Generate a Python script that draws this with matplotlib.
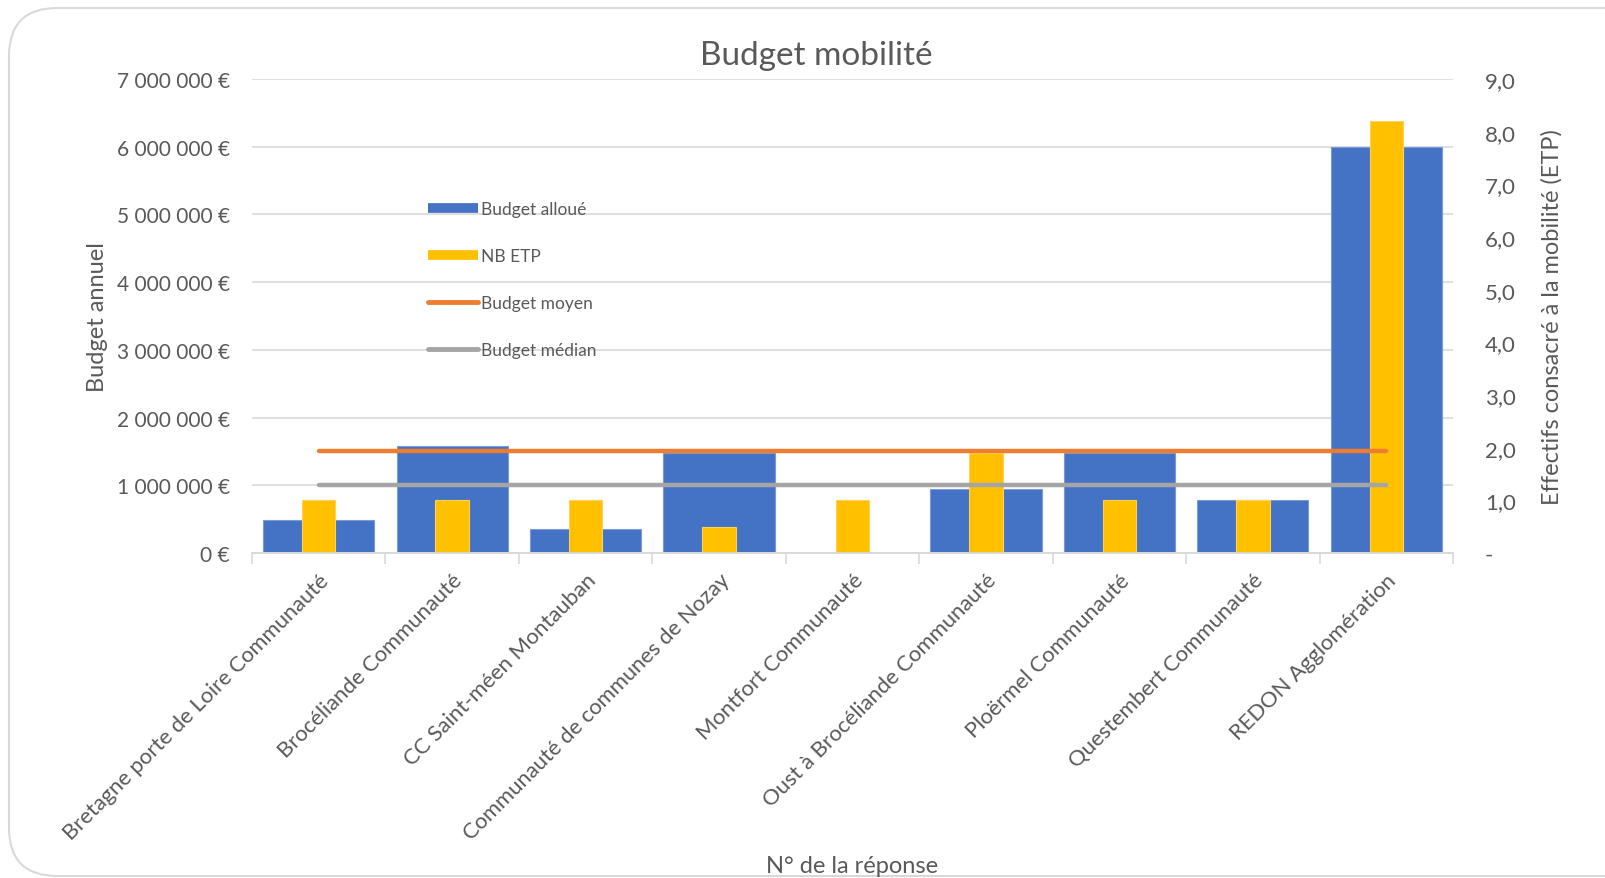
import matplotlib
matplotlib.use("Agg")
from matplotlib import pyplot as plt
from matplotlib.lines import Line2D
from matplotlib.patches import FancyBboxPatch
from matplotlib.ticker import FuncFormatter, MultipleLocator
import numpy as np

plt.rcParams["font.family"] = ["Lato", "DejaVu Sans"]

# data
communes = [
    "Bretagne porte de Loire Communauté",
    "Brocéliande Communauté",
    "CC Saint-méen Montauban",
    "Communauté de communes de Nozay",
    "Montfort Communauté",
    "Oust à Brocéliande Communauté",
    "Ploërmel Communauté",
    "Questembert Communauté",
    "REDON Agglomération",
]
budget_alloue = [490000, 1580000, 350000, 1470000, 0, 950000, 1470000, 780000, 6000000]
nb_etp = [1.0, 1.0, 1.0, 0.5, 1.0, 1.9, 1.0, 1.0, 8.2]
budget_moyen = [1500000] * len(communes)
budget_median = [1000000] * len(communes)

BLUE = "#4472C4"
YELLOW = "#FFC000"
ORANGE = "#ED7D31"
GREY = "#A5A5A5"
TXT = "#595959"
GRID = "#D9D9D9"

fig = plt.figure(figsize=(16.05, 8.79), dpi=100)

# rounded chart frame
frame = FancyBboxPatch((9 / 1605, 2 / 879), 1.2, (870 - 2) / 879,
                       boxstyle="round,pad=0,rounding_size=0.03",
                       transform=fig.transFigure, facecolor="none",
                       edgecolor="#D9D9D9", linewidth=1.5, zorder=-1,
                       mutation_aspect=1605 / 879)
fig.patches.append(frame)

ax = fig.add_axes([252 / 1605, 1 - 554 / 879, (1453 - 252) / 1605, (554 - 80) / 879])
ax.patch.set_alpha(0)
ax2 = ax.twinx()

x = np.arange(len(communes))

ax.bar(x, budget_alloue, width=0.833, color=BLUE, edgecolor="#7C9BD6",
       linewidth=0.8, zorder=2)
ax2.bar(x, nb_etp, width=0.25, color=YELLOW, edgecolor="#FFD15C",
        linewidth=0.8, zorder=2)
ax2.plot(x, budget_moyen, color=ORANGE, lw=3.2, solid_capstyle="round",
         transform=ax.transData, zorder=3)
ax2.plot(x, budget_median, color=GREY, lw=3.2, solid_capstyle="round",
         transform=ax.transData, zorder=3)

ax.set_xlim(-0.5, len(communes) - 0.5)
ax.set_ylim(0, 7000000)
ax2.set_ylim(0, 9)

ax.yaxis.set_major_locator(MultipleLocator(1000000))
ax.yaxis.set_major_formatter(FuncFormatter(
    lambda v, p: "{:,.0f} €".format(v).replace(",", " ")))
ax2.yaxis.set_major_locator(MultipleLocator(1))
ax2.yaxis.set_major_formatter(FuncFormatter(
    lambda v, p: "-" if v == 0 else "{:.1f}".format(v).replace(".", ",")))

ax.grid(axis="y", color=GRID, lw=1.2, zorder=0)
ax.set_axisbelow(True)
for a in (ax, ax2):
    for s in ("left", "right", "top"):
        a.spines[s].set_visible(False)
    a.spines["bottom"].set_color(GRID)
    a.spines["bottom"].set_linewidth(1.2)

ax.tick_params(axis="y", length=0, pad=16, labelsize=15, labelcolor=TXT)
ax2.tick_params(axis="y", length=0, pad=23, labelsize=16, labelcolor=TXT)

ax.set_xticks(x)
ax.set_xticklabels(communes, rotation=45, ha="right", va="top",
                   rotation_mode="anchor", fontsize=15.8, color=TXT)
ax.tick_params(axis="x", which="major", length=0, pad=12)
ax.set_xticks(np.arange(-0.5, len(communes)), minor=True)
ax.tick_params(axis="x", which="minor", length=8, color=GRID, width=1.2)

ax.set_ylabel("Budget annuel", fontsize=17, color=TXT, labelpad=6.5)
ax2.set_ylabel("Effectifs consacré à la mobilité (ETP)", fontsize=17,
               color=TXT, labelpad=18)
fig.text(852 / 1605, 1 - 867 / 879, "N° de la réponse", fontsize=17,
         color=TXT, ha="center", va="center")
fig.text(816 / 1605, 1 - 56 / 879, "Budget mobilité", fontsize=24,
         color=TXT, ha="center", va="center")

handles = [
    Line2D([], [], color=BLUE, lw=7, solid_capstyle="butt"),
    Line2D([], [], color=YELLOW, lw=7, solid_capstyle="butt"),
    Line2D([], [], color=ORANGE, lw=3.5, solid_capstyle="round"),
    Line2D([], [], color=GREY, lw=3.5, solid_capstyle="round"),
]
labels = ["Budget alloué", "NB ETP", "Budget moyen", "Budget médian"]
fig.legend(handles, labels, loc="upper left",
           bbox_to_anchor=(419 / 1605, 1 - 193 / 879), frameon=False,
           fontsize=12.5, labelcolor=TXT, handlelength=2.9, handletextpad=0.15,
           labelspacing=1.8, borderpad=0)

fig.savefig("out.png", dpi=100)
